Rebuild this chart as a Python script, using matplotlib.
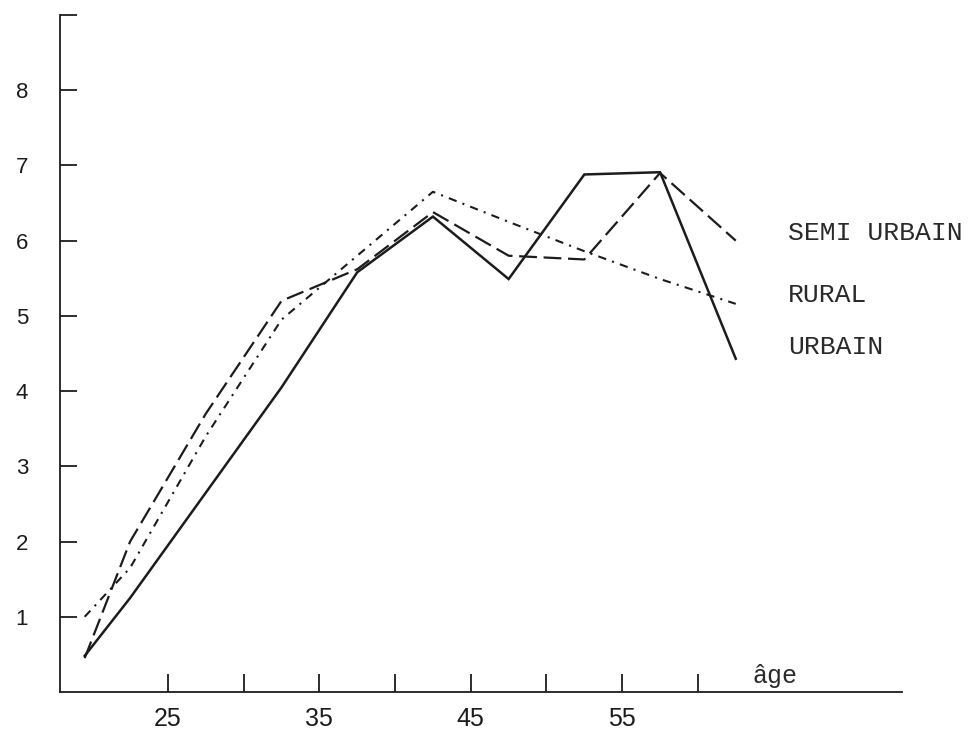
import matplotlib

matplotlib.use("Agg")

import matplotlib.pyplot as plt

# age groups (midpoints)
ages = [19.5, 22.5, 27.5, 32.5, 37.5, 42.5, 47.5, 52.5, 57.5, 62.5]

# values
urbain = [0.48, 1.25, 2.65, 4.05, 5.58, 6.32, 5.49, 6.88, 6.91, 4.43]
semi_urbain = [0.45, 2.0, 3.7, 5.2, 5.62, 6.38, 5.8, 5.75, 6.9, 6.0]
rural = [1.0, 1.65, 3.4, 4.95, 5.8, 6.65, 6.25, 5.86, 5.49, 5.16]

series_labels = ["SEMI URBAIN", "RURAL", "URBAIN"]

x_ticks = [25, 30, 35, 40, 45, 50, 55, 60]
x_tick_labels = ["25", "", "35", "", "45", "", "55", ""]
y_ticks = [1, 2, 3, 4, 5, 6, 7, 8, 9]
y_tick_labels = ["1", "2", "3", "4", "5", "6", "7", "8", ""]

ink = "#1c1c1c"

fig = plt.figure(figsize=(9.73, 7.39), dpi=100)
ax = fig.add_axes([60 / 973, 47 / 739, 842 / 973, 677 / 739])

ax.plot(ages, urbain, color=ink, lw=1.8, solid_joinstyle="miter")
ax.plot(ages, semi_urbain, color=ink, lw=1.6, dashes=(8, 3))
ax.plot(ages, rural, color=ink, lw=1.5, dashes=(4, 3, 1, 3))

ax.set_xlim(17.87, 73.48)
ax.set_ylim(0, 9)

for side in ["top", "right"]:
    ax.spines[side].set_visible(False)
for side in ["left", "bottom"]:
    ax.spines[side].set_linewidth(1.3)
    ax.spines[side].set_color(ink)

ax.set_xticks(x_ticks)
ax.set_xticklabels(x_tick_labels)
ax.set_yticks(y_ticks)
ax.set_yticklabels(y_tick_labels)

ax.tick_params(axis="x", direction="in", length=13, width=1.3, pad=11,
               colors=ink, labelsize=18)
ax.tick_params(axis="y", direction="in", length=12, width=1.3, pad=23,
               colors=ink, labelsize=16)
for lab in ax.get_xticklabels() + ax.get_yticklabels():
    lab.set_fontfamily("Liberation Sans")

# series names written at the right end of the curves
label_y = [233, 295, 347]
for name, py in zip(series_labels, label_y):
    fig.text(788 / 973, 1 - py / 739, name, family="Liberation Mono",
             fontsize=19, color="#2a2a2a", va="center", ha="left")

fig.text(752 / 973, 1 - 683 / 739, "âge", family="Liberation Mono",
         fontsize=18, color="#2a2a2a", va="baseline", ha="left")

plt.savefig("out.png", dpi=100)
plt.close()
